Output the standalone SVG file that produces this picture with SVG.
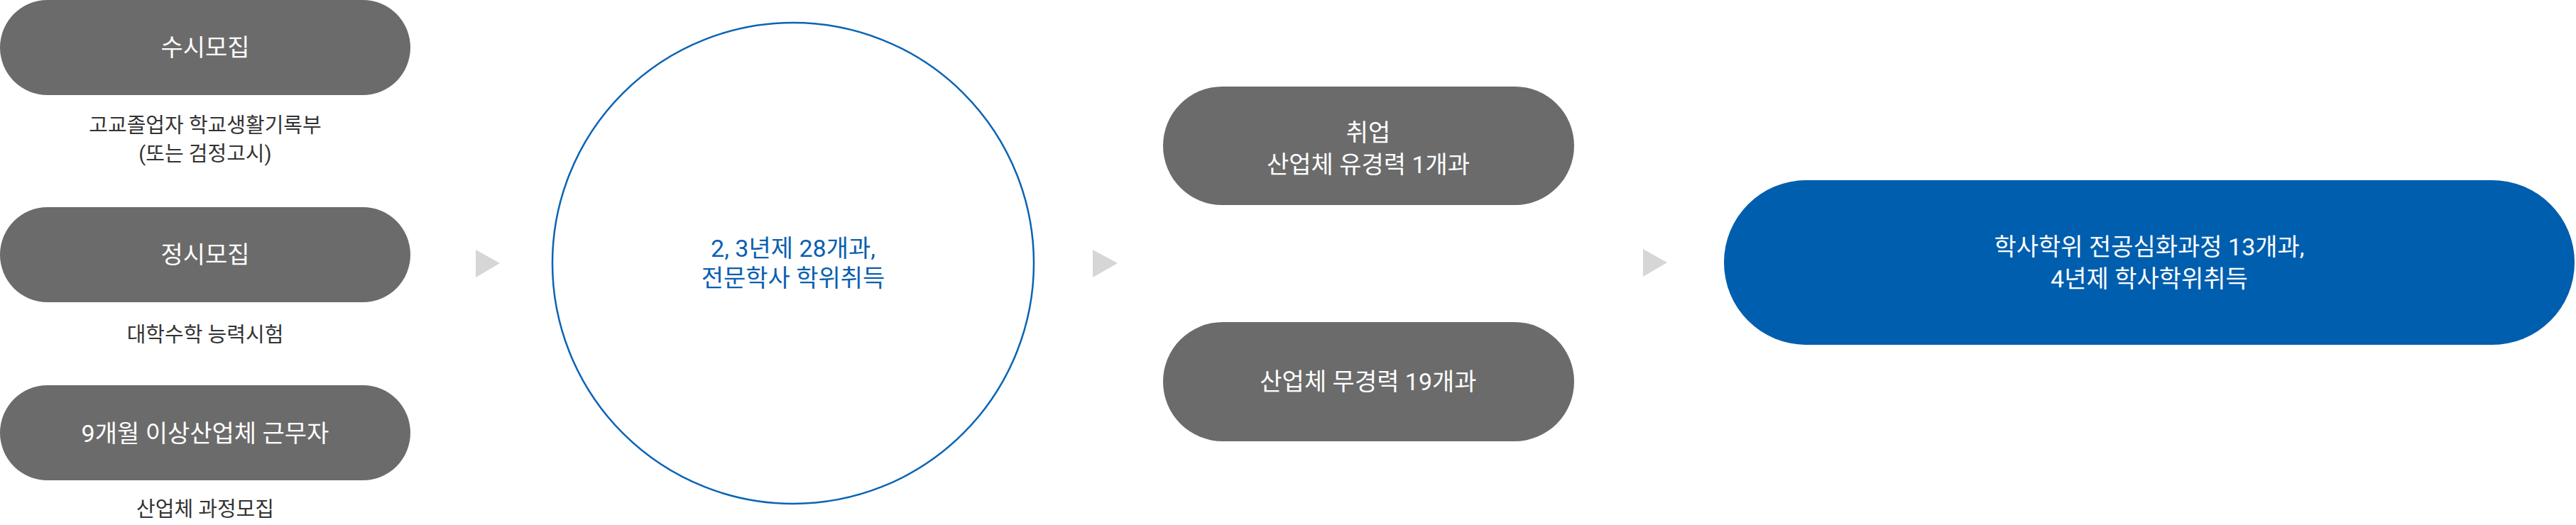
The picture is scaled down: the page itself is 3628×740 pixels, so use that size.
<svg xmlns="http://www.w3.org/2000/svg" width="3628" height="740" viewBox="0 0 3628 740">
<style>
text{font-family:Roboto,"Noto Sans CJK KR",sans-serif;text-anchor:middle;dominant-baseline:central}
.pill{fill:#6b6b6b}
.w{fill:#ffffff;font-size:34px}
.sub{fill:#333333;font-size:29px}
.blue{fill:#0a5fb0;font-size:34px}
.tri{fill:#d6d6d6}
</style>
<rect width="3628" height="740" fill="#ffffff"/>
<g id="node-susi">
<rect class="pill" x="0" y="0" width="578" height="134" rx="67"/>
<text class="w" x="289" y="67">수시모집</text>
<text class="sub" x="289" y="177">고교졸업자 학교생활기록부</text>
<text class="sub" x="289" y="217">(또는 검정고시)</text>
</g>
<g id="node-jeongsi">
<rect class="pill" x="0" y="292" width="578" height="134" rx="67"/>
<text class="w" x="289" y="359">정시모집</text>
<text class="sub" x="289" y="472">대학수학 능력시험</text>
</g>
<g id="node-industry">
<rect class="pill" x="0" y="543" width="578" height="134" rx="67"/>
<text class="w" x="289" y="611">9개월 이상산업체 근무자</text>
<text class="sub" x="289" y="718">산업체 과정모집</text>
</g>
<g id="node-circle">
<circle cx="1117" cy="371" r="339" fill="none" stroke="#0a64b4" stroke-width="2.5"/>
<text class="blue" x="1117" y="350">2, 3년제 28개과,</text>
<text class="blue" x="1117" y="392">전문학사 학위취득</text>
</g>
<g id="node-job">
<rect class="pill" x="1638" y="122" width="579" height="167" rx="83.5"/>
<text class="w" x="1927" y="187">취업</text>
<text class="w" x="1927" y="232">산업체 유경력 1개과</text>
</g>
<g id="node-nojob">
<rect class="pill" x="1638" y="454" width="579" height="168" rx="84"/>
<text class="w" x="1927" y="538">산업체 무경력 19개과</text>
</g>
<g id="node-bachelor">
<rect x="2428" y="254" width="1198" height="232" rx="116" fill="#005eae"/>
<text class="w" x="3027" y="348">학사학위 전공심화과정 13개과,</text>
<text class="w" x="3027" y="393">4년제 학사학위취득</text>
</g>
<g id="connectors">
<polygon class="tri" points="670,352 704,371 670,391"/>
<polygon class="tri" points="1539,352 1574,371 1539,391"/>
<polygon class="tri" points="2314,351 2348,370 2314,390"/>
</g>
</svg>
